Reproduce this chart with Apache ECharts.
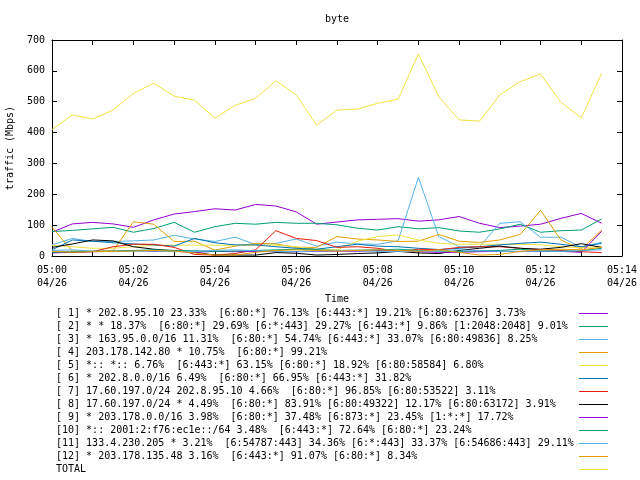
<!DOCTYPE html>
<html><head><meta charset="utf-8">
<script src="https://cdn.jsdelivr.net/npm/echarts@6/dist/echarts.min.js"></script>
<style>html,body{margin:0;padding:0;background:#fff}#c{width:640px;height:480px}</style>
</head><body><div id="c"></div>
<script>
const times = ['05:00:00','05:00:30','05:01:00','05:01:30','05:02:00','05:02:30','05:03:00','05:03:30',
  '05:04:00','05:04:30','05:05:00','05:05:30','05:06:00','05:06:30','05:07:00','05:07:30',
  '05:08:00','05:08:30','05:09:00','05:09:30','05:10:00','05:10:30','05:11:00','05:11:30',
  '05:12:00','05:12:30','05:13:00','05:13:30'];
const xTickLabels = ['05:00','','05:02','','05:04','','05:06','','05:08','','05:10','','05:12','','05:14'];
const dateLabel = '04/26';
const names = [
  '[ 1] * 202.8.95.10 23.33%  [6:80:*] 76.13% [6:443:*] 19.21% [6:80:62376] 3.73%',
  '[ 2] * * 18.37%  [6:80:*] 29.69% [6:*:443] 29.27% [6:443:*] 9.86% [1:2048:2048] 9.01%',
  '[ 3] * 163.95.0.0/16 11.31%  [6:80:*] 54.74% [6:443:*] 33.07% [6:80:49836] 8.25%',
  '[ 4] 203.178.142.80 * 10.75%  [6:80:*] 99.21%',
  '[ 5] *:: *:: 6.76%  [6:443:*] 63.15% [6:80:*] 18.92% [6:80:58584] 6.80%',
  '[ 6] * 202.8.0.0/16 6.49%  [6:80:*] 66.95% [6:443:*] 31.82%',
  '[ 7] 17.60.197.0/24 202.8.95.10 4.66%  [6:80:*] 96.85% [6:80:53522] 3.11%',
  '[ 8] 17.60.197.0/24 * 4.49%  [6:80:*] 83.91% [6:80:49322] 12.17% [6:80:63172] 3.91%',
  '[ 9] * 203.178.0.0/16 3.98%  [6:80:*] 37.48% [6:873:*] 23.45% [1:*:*] 17.72%',
  '[10] *:: 2001:2:f76:ec1e::/64 3.48%  [6:443:*] 72.64% [6:80:*] 23.24%',
  '[11] 133.4.230.205 * 3.21%  [6:54787:443] 34.36% [6:*:443] 33.37% [6:54686:443] 29.11%',
  '[12] * 203.178.135.48 3.16%  [6:443:*] 91.07% [6:80:*] 8.34%',
  'TOTAL'
];
const colors = ['#9400d3','#009e73','#56b4e9','#e69f00','#f0e442','#0072b2','#e51e10','#000000',
  '#9400d3','#009e73','#56b4e9','#e69f00','#f0e442'];

const s1  = [77,104,109,104,93,117,136,144,153,149,167,162,143,103,110,117,119,121,113,117,128,106,92,97,103,122,138,106];
const s2  = [79,83,88,93,77,89,109,77,95,106,103,109,106,106,101,90,84,95,88,92,81,77,88,103,77,82,84,120];
const s3  = [36,57,47,47,49,52,67,55,47,61,37,41,55,32,45,39,38,49,255,63,30,30,106,111,61,61,28,45];
const s4  = [93,16,16,17,111,103,47,48,19,32,41,39,28,28,63,55,52,47,48,70,48,44,52,70,148,52,22,84];
const s5  = [35,30,25,25,30,35,35,35,35,35,35,35,30,22,20,48,63,68,52,41,38,38,38,38,36,30,27,30];
const s6  = [20,52,48,43,39,36,32,57,43,36,36,30,25,22,30,38,32,30,25,21,25,30,36,41,45,38,30,41];
const s7  = [12,12,14,30,38,38,28,5,3,8,20,82,57,50,28,30,25,15,22,20,28,30,30,25,20,18,14,11];
const s8  = [28,39,52,49,30,22,17,12,3,3,3,11,9,3,5,8,10,15,10,8,18,25,32,25,22,28,40,28];
const s9  = [10,12,14,15,18,15,15,12,15,14,15,15,14,15,16,15,18,16,14,12,12,14,15,15,15,15,12,80];
const s10 = [12,14,15,16,18,20,18,17,15,16,18,20,22,20,18,19,20,22,18,16,15,17,18,22,16,15,17,25];
const s11 = [18,20,16,14,15,16,14,15,18,20,17,15,14,16,18,17,15,14,16,18,20,17,15,14,16,15,18,20];
const s12 = [15,12,14,15,16,18,16,10,3,3,12,18,20,18,16,18,20,18,15,20,12,3,5,15,20,22,20,28];
const total = [410,457,444,473,527,560,518,505,447,488,511,568,522,424,473,476,495,508,655,516,441,437,522,565,590,498,448,592];

const allSeries = [s1,s2,s3,s4,s5,s6,s7,s8,s9,s10,s11,s12,total];
const FONT = 'DejaVu Sans Mono';
const toMin = t => { const p = t.split(':').map(Number); return (p[0]-5)*60 + p[1] + p[2]/60; };

const chart = echarts.init(document.getElementById('c'), null, {renderer:'canvas'});
const axisLine = {show:true, onZero:false, lineStyle:{color:'#000', width:1}};
const axisTick = {show:true, inside:true, length:5, lineStyle:{color:'#000', width:1}};
chart.setOption({
  animation:false,
  backgroundColor:'#fff',
  title:{text:'byte', left:325, top:14, padding:0,
    textStyle:{fontFamily:FONT, fontSize:10, fontWeight:'normal', color:'#000'}},
  grid:{left:52, right:18, top:40, bottom:224, containLabel:false, outerBoundsMode:'none'},
  legend:{
    orient:'vertical', left:56, top:307, padding:0, itemGap:0, align:'right',
    icon:'rect', itemWidth:29, itemHeight:1, selectedMode:false,
    data:names,
    formatter: n => '{t|' + n + '}',
    textStyle:{fontFamily:FONT, fontSize:10, color:'#000', lineHeight:13,
      rich:{t:{width:518, align:'left', fontFamily:FONT, fontSize:10, color:'#000', lineHeight:13}}}
  },
  xAxis:[
    {type:'value', min:0, max:14, interval:1, position:'bottom',
     axisLine, axisTick, splitLine:{show:false},
     axisLabel:{fontFamily:FONT, fontSize:10, color:'#000', lineHeight:13, margin:8,
       showMinLabel:true, showMaxLabel:true, hideOverlap:false,
       formatter: v => xTickLabels[Math.round(v)] ? xTickLabels[Math.round(v)] + '\n' + dateLabel : ''},
     name:'Time', nameLocation:'middle', nameGap:38,
     nameTextStyle:{fontFamily:FONT, fontSize:10, color:'#000'}},
    {type:'value', min:0, max:14, interval:1, position:'top',
     axisLine, axisTick, splitLine:{show:false}, axisLabel:{show:false}}
  ],
  yAxis:[
    {type:'value', min:0, max:700, interval:100, position:'left',
     axisLine, axisTick, splitLine:{show:false},
     axisLabel:{fontFamily:FONT, fontSize:10, color:'#000', margin:7},
     name:'traffic (Mbps)', nameLocation:'middle', nameGap:37, nameRotate:90,
     nameTextStyle:{fontFamily:FONT, fontSize:10, color:'#000'}},
    {type:'value', min:0, max:700, interval:100, position:'right',
     axisLine, axisTick, splitLine:{show:false}, axisLabel:{show:false}}
  ],
  series: allSeries.map((vals, k) => ({
    name:names[k], type:'line', xAxisIndex:0, yAxisIndex:0,
    showSymbol:false, symbol:'none', smooth:false,
    lineStyle:{color:colors[k], width:1},
    itemStyle:{color:colors[k]},
    emphasis:{disabled:true},
    data: vals.map((v, i) => [toMin(times[i]), v])
  }))
});
</script></body></html>
